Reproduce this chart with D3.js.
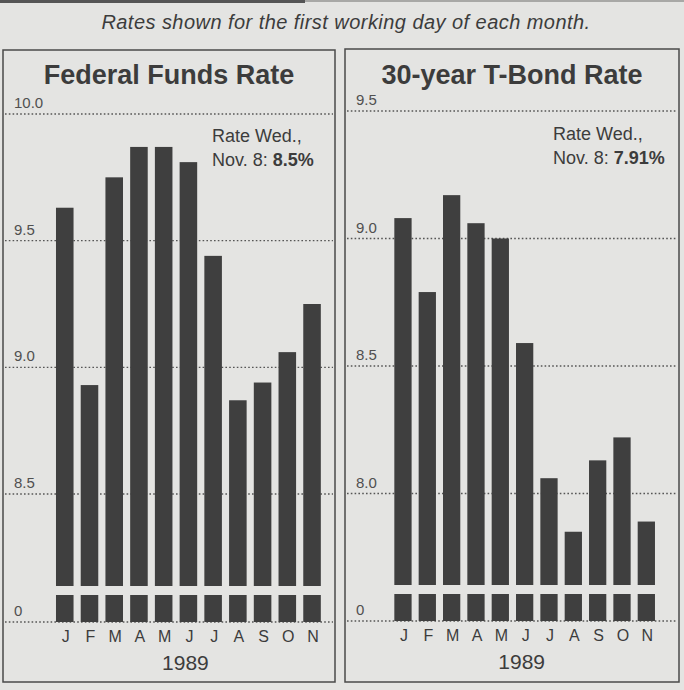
<!DOCTYPE html>
<html>
<head>
<meta charset="utf-8">
<script src="https://cdn.jsdelivr.net/npm/d3@7/dist/d3.min.js"></script>
<style>
  html, body { margin: 0; padding: 0; background: #e4e4e2; }
  svg { display: block; font-family: "Liberation Sans", Arial, Helvetica, sans-serif; }
</style>
</head>
<body>
<svg id="chart" width="684" height="690"></svg>
<script>
// ---- data ----
const months = ["J", "F", "M", "A", "M", "J", "J", "A", "S", "O", "N"];
const yearLabel = "1989";
const caption = "Rates shown for the first working day of each month.";

const fedTitle = "Federal Funds Rate";
const fedValues = [9.63, 8.93, 9.75, 9.87, 9.87, 9.81, 9.44, 8.87, 8.94, 9.06, 9.25];
const fedTicks = [8.5, 9.0, 9.5, 10.0];
const fedNote = ["Rate Wed.,", "Nov. 8: ", "8.5%"];

const bondTitle = "30-year T-Bond Rate";
const bondValues = [9.08, 8.79, 9.17, 9.06, 9.00, 8.59, 8.06, 7.85, 8.13, 8.22, 7.89];
const bondTicks = [8.0, 8.5, 9.0, 9.5];
const bondNote = ["Rate Wed.,", "Nov. 8: ", "7.91%"];

// ---- layout ----
const panels = [
  { title: fedTitle, values: fedValues, ticks: fedTicks, note: fedNote,
    box: { x: 3, y: 50, w: 332, h: 632 }, band: [52.4, 324.4],
    yRange: [494, 114], zeroY: 622, noteX: 212, noteY: 142 },
  { title: bondTitle, values: bondValues, ticks: bondTicks, note: bondNote,
    box: { x: 345, y: 49, w: 334, h: 633 }, band: [390.8, 658.5],
    yRange: [493.5, 111], zeroY: 621, noteX: 553, noteY: 140 }
];

const barColor = "#3f3f3f";
const textColor = "#3c3c3c";
const gridColor = "#555";

const svg = d3.select("#chart");

// top rule (cut-off edge of the page)
svg.append("rect").attr("x", 0).attr("y", 0).attr("width", 305).attr("height", 3).attr("fill", "#555");
svg.append("rect").attr("x", 305).attr("y", 0).attr("width", 379).attr("height", 2).attr("fill", "#a8a8a6");

svg.append("text")
  .attr("x", 346).attr("y", 29)
  .attr("text-anchor", "middle")
  .attr("font-size", 20).attr("font-style", "italic")
  .attr("letter-spacing", 0.45)
  .attr("fill", textColor)
  .text(caption);

panels.forEach(p => {
  const g = svg.append("g");
  const b = p.box;

  g.append("rect")
    .attr("x", b.x).attr("y", b.y).attr("width", b.w).attr("height", b.h)
    .attr("fill", "none").attr("stroke", "#4a4a4a").attr("stroke-width", 1.5);

  g.append("text")
    .attr("x", b.x + b.w / 2).attr("y", 84)
    .attr("text-anchor", "middle")
    .attr("font-size", 27).attr("font-weight", "bold")
    .attr("fill", textColor)
    .text(p.title);

  const x = d3.scaleBand()
    .domain(d3.range(months.length))
    .range(p.band)
    .paddingInner(0.29).paddingOuter(0.145);

  const y = d3.scaleLinear()
    .domain([p.ticks[0], p.ticks[p.ticks.length - 1]])
    .range(p.yRange);

  // broken-axis geometry
  const breakBottom = p.zeroY - 36; // bottom of the upper bar section
  const stubTop = p.zeroY - 27;     // top of the stub above zero

  // gridlines
  const gridX1 = b.x + 2, gridX2 = b.x + b.w - 2;
  const gridYs = p.ticks.map(t => ({ label: d3.format(".1f")(t), y: y(t) }))
    .concat([{ label: "0", y: p.zeroY }]);

  g.selectAll("line.grid").data(gridYs).join("line")
    .attr("class", "grid")
    .attr("x1", gridX1).attr("x2", gridX2)
    .attr("y1", d => d.y).attr("y2", d => d.y)
    .attr("stroke", gridColor).attr("stroke-width", 1.4)
    .attr("stroke-dasharray", "1.6,2.2");

  g.selectAll("text.tick").data(gridYs).join("text")
    .attr("class", "tick")
    .attr("x", b.x + 11).attr("y", d => d.y - 6)
    .attr("font-size", 15)
    .attr("fill", "#505050")
    .text(d => d.label);

  // upper bars
  g.selectAll("rect.bar").data(p.values).join("rect")
    .attr("class", "bar")
    .attr("x", (d, i) => x(i)).attr("width", x.bandwidth())
    .attr("y", d => y(d)).attr("height", d => breakBottom - y(d))
    .attr("fill", barColor);

  // stubs above zero
  g.selectAll("rect.stub").data(p.values).join("rect")
    .attr("class", "stub")
    .attr("x", (d, i) => x(i)).attr("width", x.bandwidth())
    .attr("y", stubTop).attr("height", p.zeroY - stubTop)
    .attr("fill", barColor);

  // month labels
  g.selectAll("text.month").data(months).join("text")
    .attr("class", "month")
    .attr("x", (d, i) => x(i) + x.bandwidth() / 2 + 1)
    .attr("y", p.zeroY + 20)
    .attr("text-anchor", "middle")
    .attr("font-size", 16)
    .attr("fill", textColor)
    .text(d => d);

  g.append("text")
    .attr("x", (p.band[0] + p.band[1]) / 2 - 3).attr("y", p.zeroY + 48)
    .attr("text-anchor", "middle")
    .attr("font-size", 21)
    .attr("fill", textColor)
    .text(yearLabel);

  // annotation
  const note = g.append("text")
    .attr("x", p.noteX).attr("y", p.noteY)
    .attr("font-size", 18).attr("fill", textColor);
  note.append("tspan").text(p.note[0]);
  const l2 = g.append("text")
    .attr("x", p.noteX).attr("y", p.noteY + 24)
    .attr("font-size", 18).attr("fill", textColor);
  l2.append("tspan").text(p.note[1]);
  l2.append("tspan").attr("font-weight", "bold").text(p.note[2]);
});
</script>
</body>
</html>
